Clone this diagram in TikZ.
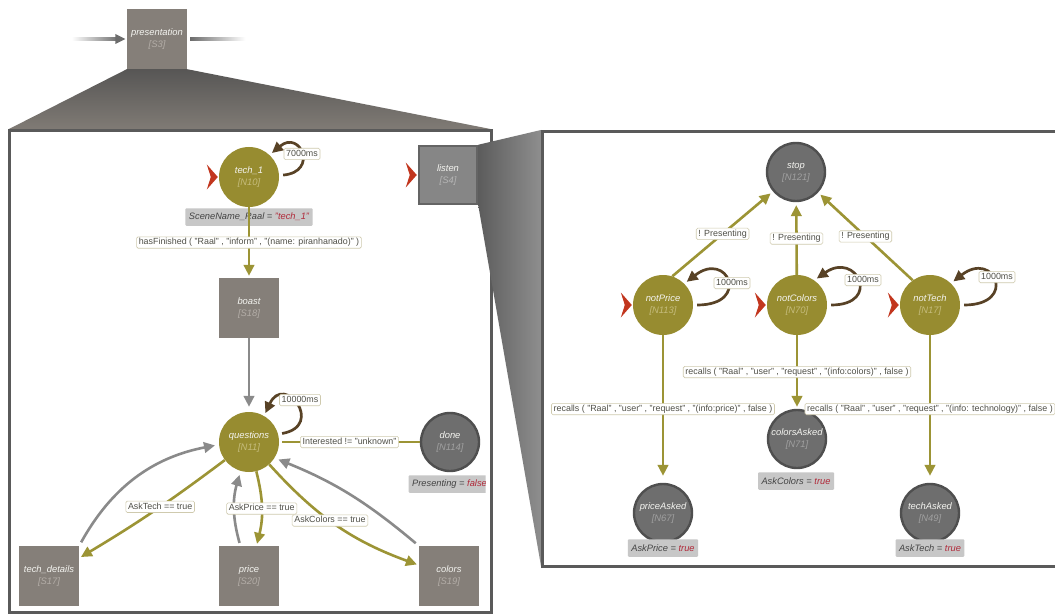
\documentclass[tikz,border=0pt]{standalone}
\usepackage{fontspec}
\setmainfont{Liberation Sans}
\usetikzlibrary{arrows.meta,backgrounds}

% palette
\definecolor{olivefill}{HTML}{978C30}
\definecolor{oliveline}{HTML}{9C9435}
\definecolor{oliveid}{HTML}{C5BC7C}
\definecolor{boxfill}{HTML}{857F79}
\definecolor{boxid}{HTML}{B3ADA7}
\definecolor{circfill}{HTML}{6E6E6E}
\definecolor{circborder}{HTML}{4F4F4F}
\definecolor{circid}{HTML}{A0A0A0}
\definecolor{listenfill}{HTML}{868686}
\definecolor{listenborder}{HTML}{646464}
\definecolor{listenid}{HTML}{B5B5B5}
\definecolor{panelborder}{HTML}{5A5A5A}
\definecolor{edgegray}{HTML}{8A8A8A}
\definecolor{arrowgray}{HTML}{6C6C6C}
\definecolor{loopbrown}{HTML}{584226}
\definecolor{startred}{HTML}{C2361E}
\definecolor{labelborder}{HTML}{CFCAAE}
\definecolor{labeltext}{HTML}{505048}
\definecolor{condfill}{HTML}{C7C7C7}
\definecolor{condtext}{HTML}{444444}
\definecolor{condvalue}{HTML}{B02A3A}
\definecolor{nametext}{HTML}{F4F4F0}
\definecolor{hoodtop}{HTML}{575655}
\definecolor{hoodbottom}{HTML}{807B75}
\definecolor{sidedark}{HTML}{5C5C5C}
\definecolor{sidelight}{HTML}{8E8E8E}

\colorlet{idc}{white}
\newcommand\stname[1]{{\color{nametext}#1}}
\newcommand\stid[1]{{\color{idc}#1}}
\newcommand\condval[1]{{\color{condvalue}#1}}
% red entry chevron in front of an initial state
\newcommand\entrymark[1]{\fill[startred] ([xshift=-1pt]#1.west) -- ++(-11pt,12.5pt) -- ++(4pt,-12.5pt) -- ++(-4pt,-12.5pt) -- cycle;}

\tikzset{
  statebase/.style={inner sep=0pt, align=center, font=\fontsize{9.4}{12}\selectfont\itshape},
  olivestate/.style={statebase, circle, minimum size=60pt, fill=olivefill,
    execute at begin node={\colorlet{idc}{oliveid}}},
  graystate/.style={statebase, circle, minimum size=58pt, fill=circfill, draw=circborder, line width=2.4pt,
    execute at begin node={\colorlet{idc}{circid}}},
  scenebox/.style={statebase, rectangle, minimum size=60pt, fill=boxfill,
    execute at begin node={\colorlet{idc}{boxid}}},
  listenbox/.style={statebase, rectangle, minimum size=58pt, fill=listenfill, draw=listenborder, line width=2.5pt,
    execute at begin node={\colorlet{idc}{listenid}}},
  elabel/.style={draw=labelborder, line width=0.6pt, fill=white, rounded corners=1.5pt,
    inner xsep=2.2pt, inner ysep=1.4pt, text=labeltext, font=\fontsize{8.9}{10}\selectfont,
    text height=6.7pt, text depth=1.9pt},
  cond/.style={fill=condfill, rounded corners=1pt, inner xsep=3.5pt, inner ysep=0pt, minimum height=17.5pt,
    text=condtext, font=\fontsize{9.3}{11}\selectfont\itshape},
  tipbig/.style={-{Triangle[length=11pt,width=10.5pt]}},
  oliveedge/.style={draw=oliveline, line width=2.6pt, tipbig, shorten >=2pt},
  oliveplain/.style={draw=oliveline, line width=2.6pt},
  grayedge/.style={draw=edgegray, line width=2.6pt, tipbig, shorten >=4pt},
  selfloop/.style={draw=loopbrown, line width=2.7pt, -{Triangle[length=11pt,width=10.5pt]}, shorten <=4pt, shorten >=3pt},
  panelframe/.style={draw=panelborder, line width=3pt, fill=white},
}

\begin{document}
\begin{tikzpicture}[x=1pt,y=1pt]
\useasboundingbox (0,0) rectangle (1055,-615);

% ---------- top level scene ----------
\node[scenebox] (pres) at (157,-39) {\stname{presentation}\\\stid{[S3]}};
\coordinate (presin) at ([xshift=-55pt]pres.west);
\coordinate (presout) at ([xshift=58pt]pres.east);

% ---------- left sub-diagram ----------
\node[olivestate] (tech1) at (249,-177) {\stname{tech\_1}\\\stid{[N10]}};
\node[scenebox] (boast) at (249,-308) {\stname{boast}\\\stid{[S18]}};
\node[olivestate] (questions) at (249,-442) {\stname{questions}\\\stid{[N11]}};
\node[graystate] (done) at (450,-442) {\stname{done}\\\stid{[N114]}};
\node[scenebox] (techdet) at (49,-576) {\stname{tech\_details}\\\stid{[S17]}};
\node[scenebox] (price) at (249,-576) {\stname{price}\\\stid{[S20]}};
\node[scenebox] (colors) at (449,-576) {\stname{colors}\\\stid{[S19]}};
\node[listenbox] (listen) at (448,-175) {\stname{listen}\\\stid{[S4]}};

% ---------- right sub-diagram ----------
\node[graystate] (stop) at (796,-172) {\stname{stop}\\\stid{[N121]}};
\node[olivestate] (notPrice) at (663,-305) {\stname{notPrice}\\\stid{[N113]}};
\node[olivestate] (notColors) at (797,-305) {\stname{notColors}\\\stid{[N70]}};
\node[olivestate] (notTech) at (930,-305) {\stname{notTech}\\\stid{[N17]}};
\node[graystate] (priceAsked) at (663,-513) {\stname{priceAsked}\\\stid{[N67]}};
\node[graystate] (colorsAsked) at (797,-439) {\stname{colorsAsked}\\\stid{[N71]}};
\node[graystate] (techAsked) at (930,-513) {\stname{techAsked}\\\stid{[N49]}};

% ---------- frames behind everything ----------
\begin{pgfonlayer}{background}
  \fill[white] (0,0) rectangle (1055,-615);
  \coordinate (lp-nw) at (8,-129.5);
  \coordinate (lp-ne) at (493,-129.5);
  \coordinate (rp-nw) at (541,-130);
  \coordinate (rp-sw) at (541,-566);
  \shade[top color=hoodtop, bottom color=hoodbottom]
    (pres.south west) -- (pres.south east) -- (lp-ne) -- (lp-nw) -- cycle;
  \draw[panelframe] (9.5,-131) rectangle (491.5,-612.5);
  \shade[left color=sidedark, right color=sidelight]
    (listen.north east) -- (rp-nw) -- (rp-sw) -- (listen.south east) -- cycle;
  \draw[panelframe] (542.5,-131.5) rectangle (1070,-566.5);
\end{pgfonlayer}

% entry and exit of the top level scene
\shade[left color=white, right color=arrowgray] ([yshift=1.3pt]presin) rectangle ([shift={(-8pt,-1.3pt)}]pres.west);
\fill[arrowgray] ([xshift=-1.5pt]pres.west) -- ++(-10pt,5pt) -- ++(0,-10pt) -- cycle;
\shade[left color=arrowgray, right color=white] ([shift={(3pt,1.3pt)}]pres.east) rectangle ([yshift=-1.3pt]presout);

% initial markers
\entrymark{tech1}
\entrymark{listen}
\entrymark{notPrice}
\entrymark{notColors}
\entrymark{notTech}

% state conditions
\node[cond] (tech1cond) at (249,-217) {SceneName\_Raal = \condval{"tech\_1"}};
\begin{scope}
  \clip (10,-131) rectangle (485.5,-612);
  \node[cond] (donecond) at (449.5,-484) {Presenting = \condval{false}};
\end{scope}
\node[cond] (pricecond) at (663,-548) {AskPrice = \condval{true}};
\node[cond] (colorscond) at (796,-481) {AskColors = \condval{true}};
\node[cond] (techcond) at (930,-548) {AskTech = \condval{true}};

% ---------- left transitions ----------
\draw[oliveedge] (tech1) -- node[elabel] {hasFinished ( "Raal" , "inform" , "(name: piranhanado)" )} (boast);
\draw[grayedge, shorten >=5pt] (boast) -- (questions);
\draw[grayedge, shorten <=4pt] (techdet.north east) to[out=61, in=191] (questions.185);
\draw[grayedge, shorten <=3pt] (price) to[bend left=16] (questions);
\draw[grayedge, shorten <=4pt] (colors.north west) to[out=140, in=-22] (questions.-32);
\draw[oliveedge] (questions) to[bend left=3] node[elabel, pos=0.45] {AskTech == true} (techdet);
\draw[oliveedge] (questions) to[bend left=14] node[elabel, pos=0.5] {AskPrice == true} (price);
\draw[oliveedge] (questions) to[bend right=14] node[elabel, pos=0.45] {AskColors == true} (colors);
\draw[oliveplain, shorten <=3pt] (questions) -- node[elabel] {Interested != "unknown"} (done);

\draw[selfloop] (tech1.3) to[out=5, in=40, out distance=40pt, in distance=40pt] (tech1.47);
\node[elabel] (tech1timer) at (302,-154) {7000ms};
\draw[selfloop] (questions.15) to[out=10, in=65, out distance=48pt, in distance=48pt] (questions.60);
\node[elabel] (questionstimer) at (300,-400) {10000ms};

% ---------- right transitions ----------
\draw[oliveedge, shorten >=3pt] (notPrice.72) -- node[elabel] {! Presenting} (stop);
\draw[oliveedge, shorten >=3pt] (notColors) -- node[elabel] {! Presenting} (stop);
\draw[oliveedge, shorten >=3pt] (notTech.125) -- node[elabel] {! Presenting} (stop);

\draw[oliveedge, shorten >=7pt] (notPrice) -- node[elabel] {recalls ( "Raal" , "user" , "request" , "(info:price)" , false )} (priceAsked);
\draw[oliveedge, shorten >=2pt] (notColors) -- node[elabel] {recalls ( "Raal" , "user" , "request" , "(info:colors)" , false )} (colorsAsked);
\draw[oliveedge, shorten >=7pt] (notTech) -- node[elabel] {recalls ( "Raal" , "user" , "request" , "(info: technology)" , false )} (techAsked);

\draw[selfloop] (notPrice.0) to[out=0, in=38, out distance=58pt, in distance=55pt] (notPrice.45);
\node[elabel] (notPricetimer) at (732,-283) {1000ms};
\draw[selfloop] (notColors.0) to[out=0, in=35, out distance=55pt, in distance=52pt] (notColors.55);
\node[elabel] (notColorstimer) at (863,-280) {1000ms};
\draw[selfloop] (notTech.0) to[out=0, in=38, out distance=58pt, in distance=55pt] (notTech.46);
\node[elabel] (notTechtimer) at (997,-277) {1000ms};

\end{tikzpicture}
\end{document}
